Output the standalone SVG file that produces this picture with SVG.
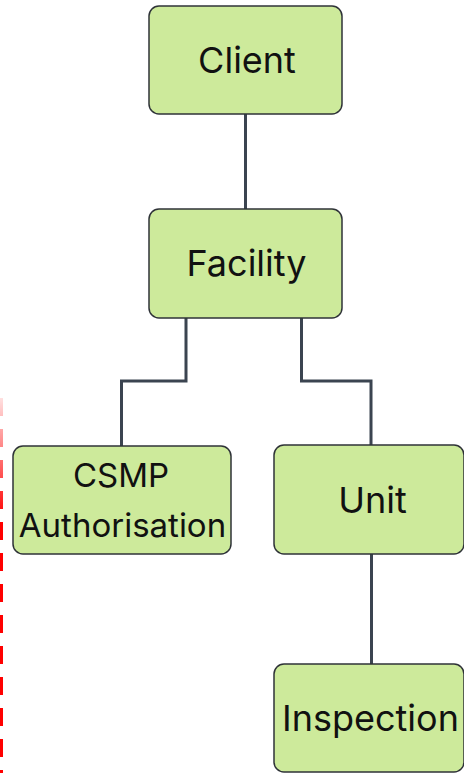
<svg xmlns="http://www.w3.org/2000/svg" width="464" height="773" viewBox="0 0 464 773">
<defs>
<linearGradient id="fade" x1="0" y1="395" x2="0" y2="520" gradientUnits="userSpaceOnUse">
<stop offset="0" stop-color="#ff0000" stop-opacity="0.1"/>
<stop offset="1" stop-color="#ff0000" stop-opacity="1"/>
</linearGradient>
</defs>
<style>
.node rect{fill:#cdea9b;stroke:#2f3338;stroke-width:1.5}
.node text{font-family:Inter,"Liberation Sans",sans-serif;font-size:36px;fill:#111;text-anchor:middle}
.node text.sm{font-size:33px}
.edge{fill:none;stroke:#3b4450;stroke-width:3}
</style>
<rect width="464" height="773" fill="#ffffff"/>
<line x1="1.5" y1="398" x2="1.5" y2="773" stroke="url(#fade)" stroke-width="3" stroke-dasharray="18 13"/>
<g id="connectors">
<path class="edge" d="M245.5 114 V209"/>
<path class="edge" d="M186 318 V381 H121.5 V446"/>
<path class="edge" d="M301.5 318 V381 H371 V445"/>
<path class="edge" d="M371.5 554 V664"/>
</g>
<g id="client" class="node">
<rect x="149" y="6" width="193" height="108" rx="10"/>
<text x="247" y="73">Client</text>
</g>
<g id="facility" class="node">
<rect x="149" y="209" width="193" height="109" rx="10"/>
<text x="246.5" y="276">Facility</text>
</g>
<g id="csmp" class="node">
<rect x="13" y="446" width="218" height="108" rx="10"/>
<text class="sm" x="121" y="487">CSMP</text>
<text class="sm" x="122.5" y="537">Authorisation</text>
</g>
<g id="unit" class="node">
<rect x="274" y="445" width="190" height="109" rx="10"/>
<text x="372.5" y="513">Unit</text>
</g>
<g id="inspection" class="node">
<rect x="274" y="664" width="190" height="108" rx="10"/>
<text x="370.5" y="731">Inspection</text>
</g>
</svg>
